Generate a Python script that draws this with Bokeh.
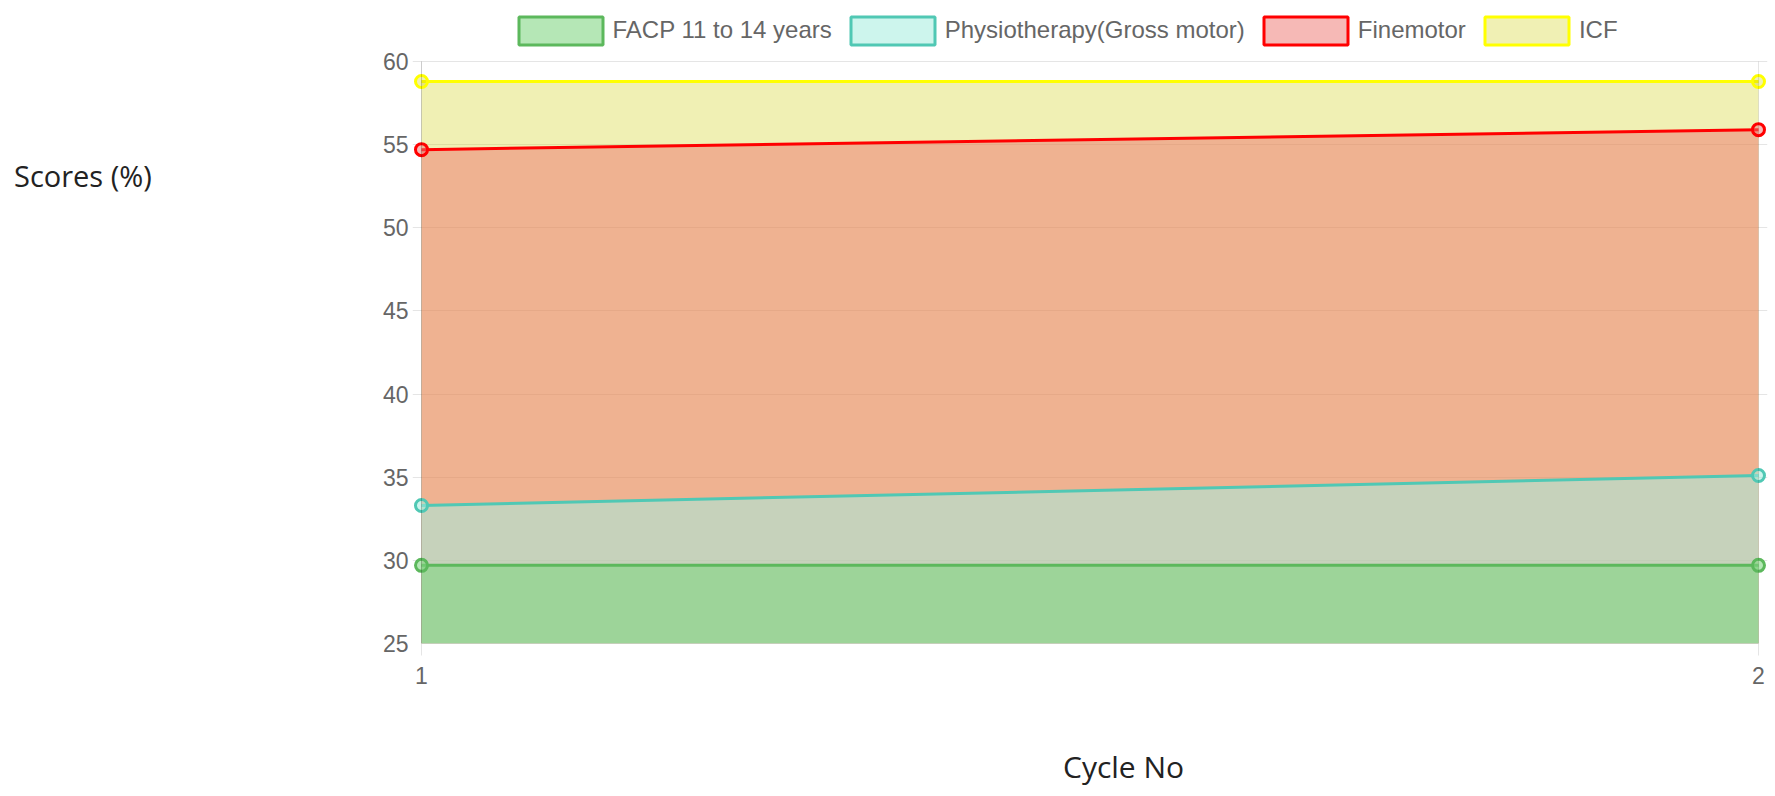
from bokeh.plotting import figure
from bokeh.models import (Range1d, FixedTicker, Legend, LegendItem, Div, LinearAxis)
from bokeh.layouts import row, column
from bokeh.embed import file_html
from bokeh.resources import INLINE

# ---- data ----
cycles = [1, 2]
facp = [29.7, 29.7]
physio = [33.3, 35.1]
finemotor = [54.7, 55.9]
icf = [58.8, 58.8]
series_names = ["FACP 11 to 14 years", "Physiotherapy(Gross motor)", "Finemotor", "ICF"]
y_ticks = [25, 30, 35, 40, 45, 50, 55, 60]
x_ticks = [1, 2]
y_min, y_max = 25, 60

# ---- styles ----
line_colors = ["#5cb85c", "#50c8b4", "#ff0000", "#ffff00"]
fill_colors = ["#7fd581", "#a4ecdf", "#ee746e", "#cdcd05"]
fill_alphas = [0.58, 0.55, 0.5, 0.3]
series = [facp, physio, finemotor, icf]

# ---- geometry (pixels) ----
plot_w_px = 1337          # distance between x=1 and x=2
plot_h_px = 582           # distance between y=25 and y=60
pad_px = 9                # room so edge markers are not clipped
legend_room_px = 51       # room above y=60 for the legend
x_unit = (cycles[-1] - cycles[0]) / plot_w_px
y_unit = (y_max - y_min) / plot_h_px

p = figure(width=1574, height=693, output_backend="svg", toolbar_location=None,
           x_range=Range1d(cycles[0] - pad_px * x_unit, cycles[-1] + pad_px * x_unit),
           y_range=Range1d(y_min, y_max + legend_room_px * y_unit),
           min_border_left=212, min_border_right=7, min_border_top=10, min_border_bottom=50)
p.outline_line_color = None
p.title.visible = False

# grids
p.ygrid.ticker = FixedTicker(ticks=y_ticks)
p.ygrid.grid_line_color = "black"
p.ygrid.grid_line_alpha = 0.1
p.xgrid.visible = False

# axes
tick_font = "Liberation Sans"
p.yaxis.ticker = FixedTicker(ticks=y_ticks)
p.xaxis.ticker = FixedTicker(ticks=x_ticks)
for ax in (p.xaxis, p.yaxis):
    ax.major_label_text_font = tick_font
    ax.major_label_text_font_size = "23px"
    ax.major_label_text_color = "#666666"
    ax.minor_tick_line_color = None
    ax.major_tick_in = 0
    ax.major_tick_line_color = "black"
    ax.major_tick_line_alpha = 0.1
p.yaxis.axis_line_color = None
p.yaxis.major_tick_out = 0
p.yaxis.major_label_standoff = 4
p.xaxis.bounds = (cycles[0], cycles[-1])
p.xaxis.axis_line_color = "black"
p.xaxis.axis_line_alpha = 0.1
p.xaxis.major_tick_out = 12
p.xaxis.major_label_standoff = 11

# vertical border lines at the first and last cycle
for loc, alpha, side in ((cycles[0], 0.2, "left"), (cycles[-1], 0.1, "right")):
    p.add_layout(LinearAxis(ticker=FixedTicker(ticks=[]), bounds=(y_min, y_max),
                            fixed_location=loc, axis_line_color="black",
                            axis_line_alpha=alpha, minor_tick_line_color=None,
                            major_tick_line_color=None), side)

# fills (last dataset drawn first, like the original)
order = [3, 2, 1, 0]
for i in order:
    p.varea(x=cycles, y1=[y_min] * len(cycles), y2=series[i],
            fill_color=fill_colors[i], fill_alpha=fill_alphas[i])

# lines and points
for i in order:
    p.line(cycles, series[i], line_color=line_colors[i], line_width=3)
    p.scatter(cycles, series[i], size=12, line_color=line_colors[i], line_width=3,
              fill_color=fill_colors[i], fill_alpha=fill_alphas[i])

# legend swatches (glyphs with no visible data, used by the legend only)
nan = float("nan")
items = []
for i in range(4):
    r = p.quad(left=[nan], right=[nan], top=[nan], bottom=[nan], fill_color=fill_colors[i],
               fill_alpha=fill_alphas[i], line_color=line_colors[i], line_width=3)
    items.append(LegendItem(label=series_names[i], renderers=[r]))

legend = Legend(items=items, location=(86.5 + pad_px, 643 - 47.5),
                orientation="horizontal",
                glyph_width=105, glyph_height=35, label_standoff=0, spacing=8,
                padding=0, margin=0, border_line_color=None, background_fill_alpha=0,
                label_text_font=tick_font, label_text_font_size="24px",
                label_text_color="#666666", label_height=35)
p.add_layout(legend)

label_style = {"font-family": "'Open Sans'", "color": "#222222", "line-height": "1",
               "white-space": "nowrap"}
ylab = Div(text="Scores (%)", width=186, height=40, margin=(161, 0, 0, 14),
           styles=dict(label_style, **{"font-size": "29px"}))
xlab = Div(text="Cycle No", width=300, height=40, margin=(59, 0, 0, 1063),
           styles=dict(label_style, **{"font-size": "30px"}))

layout = column(row(ylab, p), xlab)
open("out.html", "w").write(file_html(layout, INLINE))
